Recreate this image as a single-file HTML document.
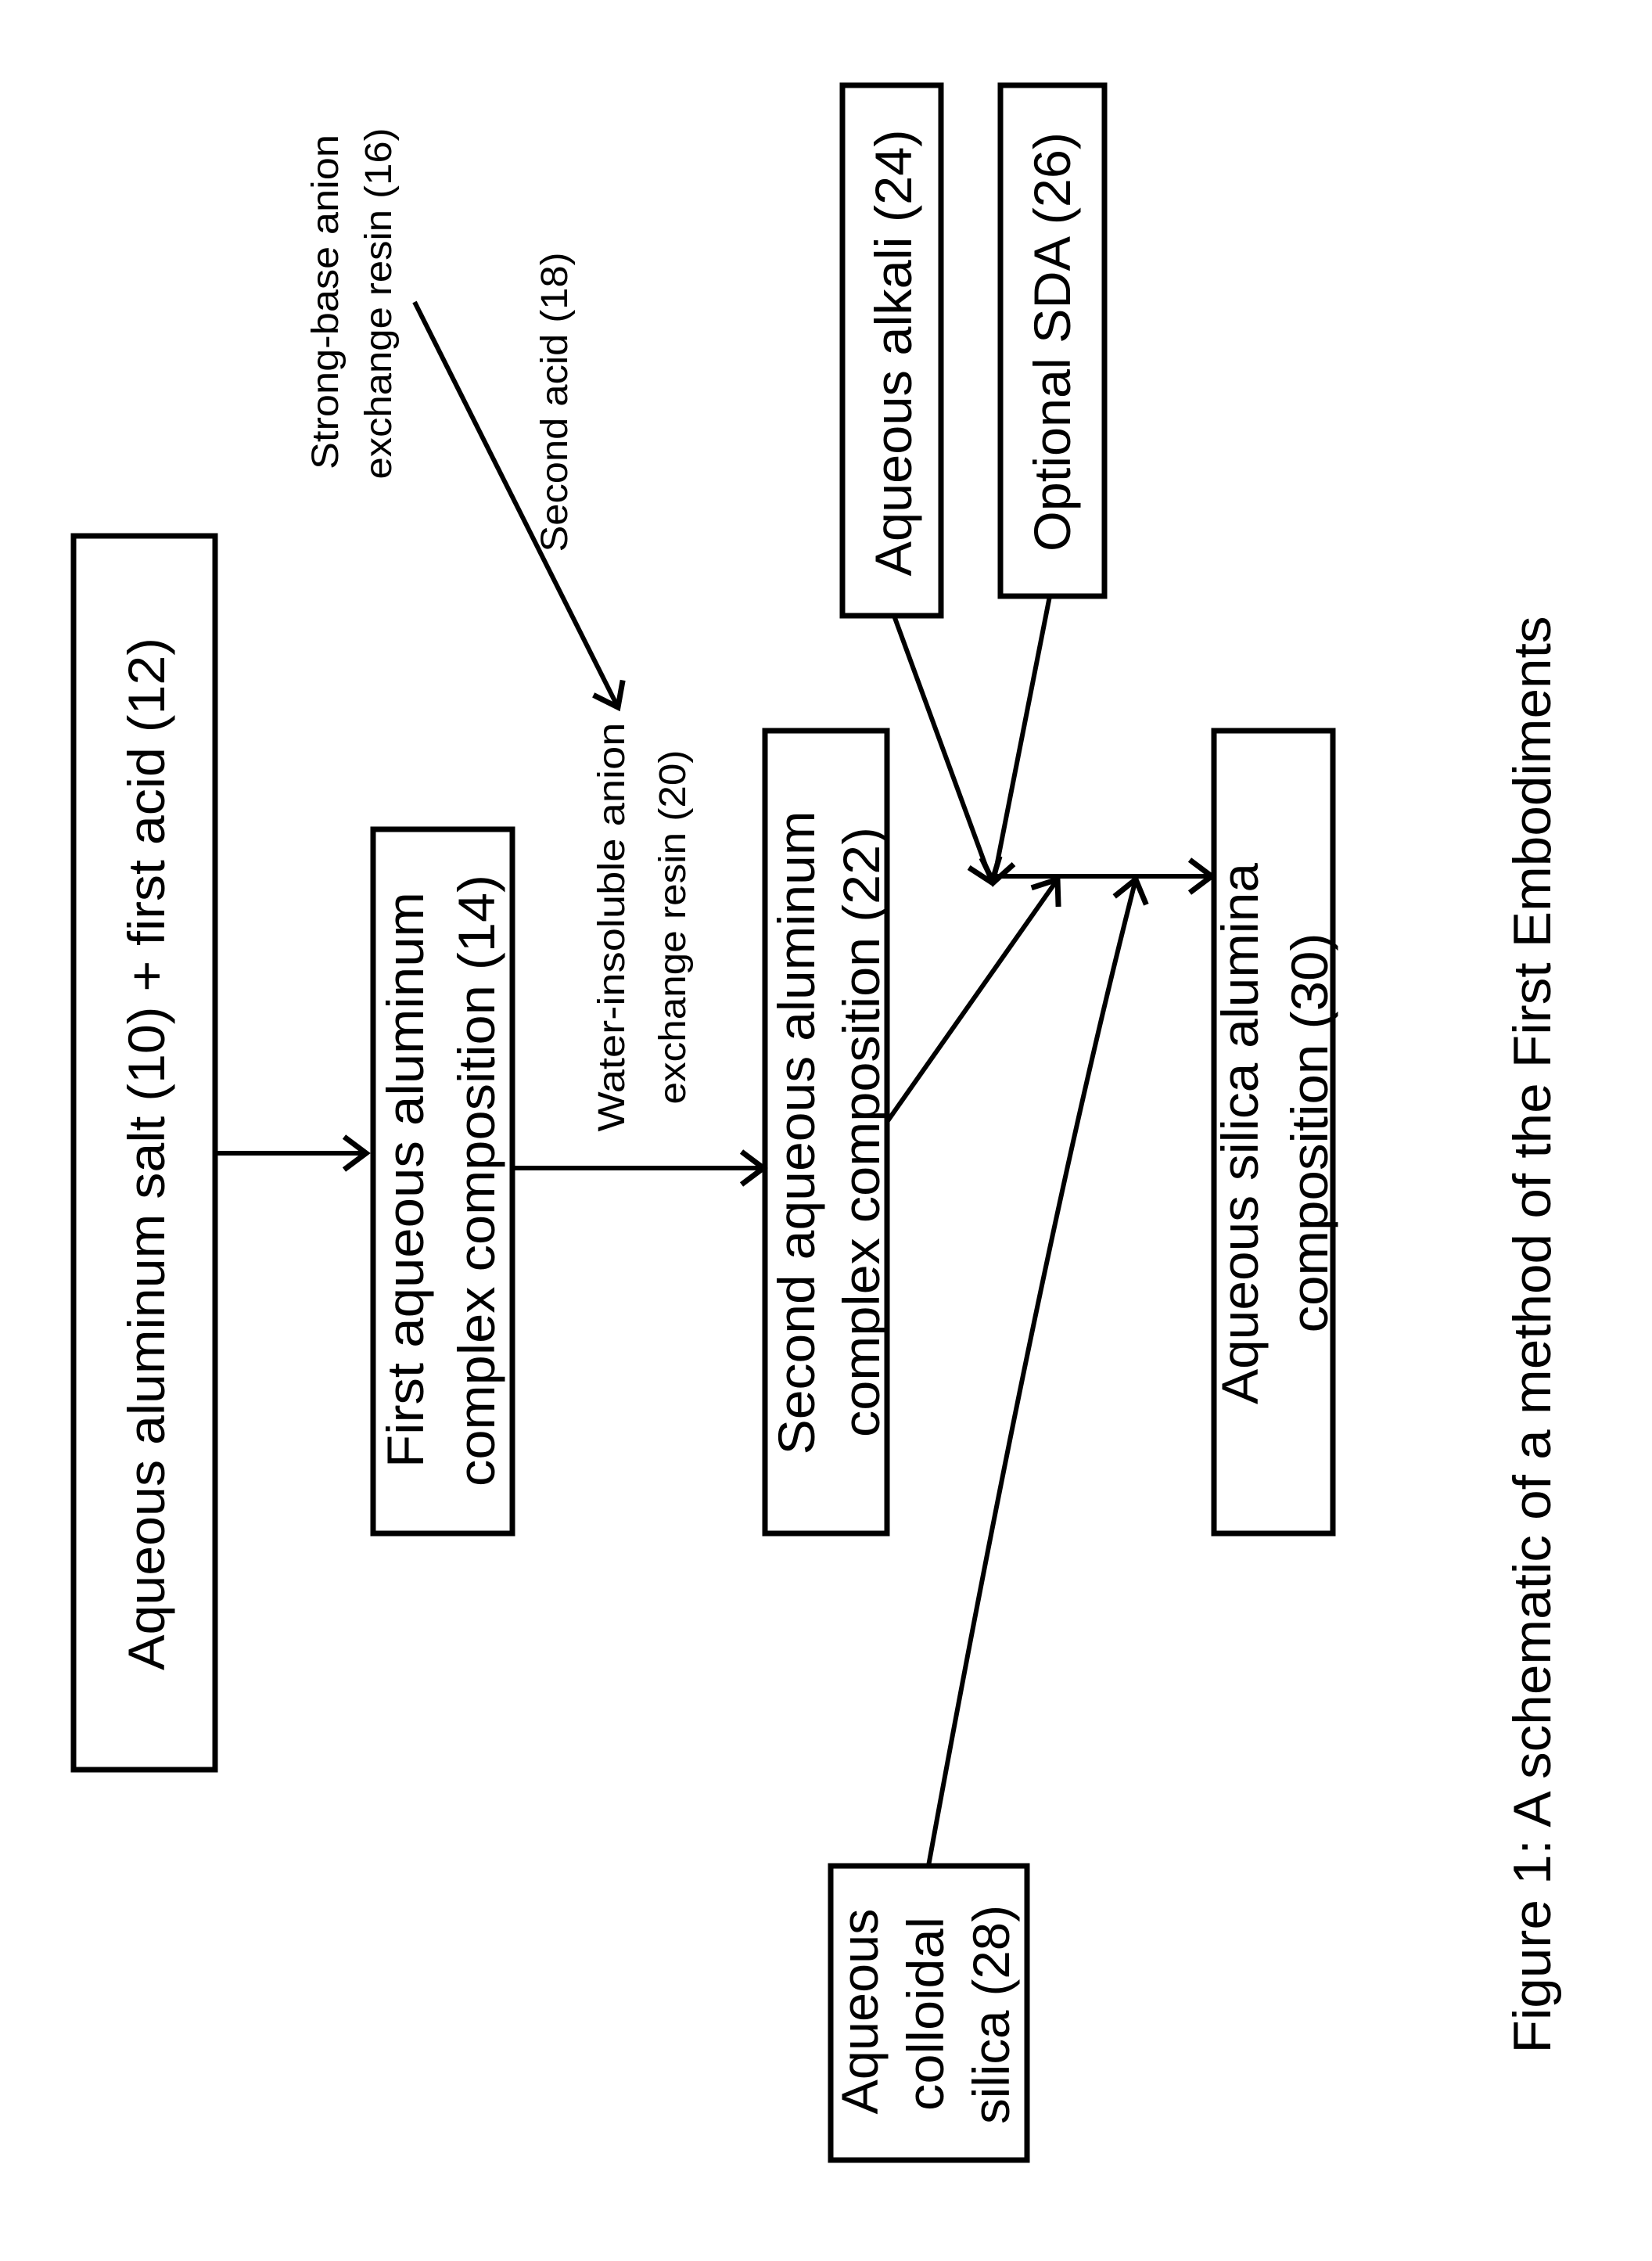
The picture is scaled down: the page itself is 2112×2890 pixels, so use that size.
<!DOCTYPE html>
<html><head><meta charset="utf-8"><style>html,body{margin:0;padding:0;background:#fff}svg{display:block}</style></head>
<body>
<svg width="2112" height="2890" viewBox="0 0 2112 2890" xmlns="http://www.w3.org/2000/svg">
<defs>
<marker id="a" markerUnits="userSpaceOnUse" markerWidth="60" markerHeight="60" refX="34" refY="25" orient="auto">
<polyline points="6,4 34,25 6,46" fill="none" stroke="#000" stroke-width="7" stroke-linejoin="miter"/>
</marker>
</defs>
<g fill="none" stroke="#000" stroke-width="7">
<rect x="94" y="685" width="181" height="1577"/>
<rect x="477" y="1060" width="178" height="900"/>
<rect x="978" y="934" width="156" height="1026"/>
<rect x="1552" y="934" width="152" height="1026"/>
<rect x="1077" y="109" width="126" height="678"/>
<rect x="1279" y="109" width="133" height="653"/>
<rect x="1062" y="2385" width="251" height="376"/>
</g>
<g fill="none" stroke="#000" stroke-width="6">
<line x1="276" y1="1474" x2="468" y2="1474" marker-end="url(#a)"/>
<line x1="655" y1="1493" x2="976" y2="1493" marker-end="url(#a)"/>
<line x1="530" y1="386" x2="790" y2="904" marker-end="url(#a)"/>
<line x1="1143" y1="787" x2="1268" y2="1128" marker-end="url(#a)"/>
<line x1="1342" y1="762" x2="1270" y2="1128" marker-end="url(#a)"/>
<line x1="1268" y1="1120" x2="1549" y2="1120" marker-end="url(#a)"/>
<line x1="1134" y1="1434" x2="1352" y2="1124" marker-end="url(#a)"/>
<path d="M1187,2385 Q1330,1600 1452,1124" marker-end="url(#a)"/>
</g>
<g font-family="Liberation Sans, sans-serif" fill="#000" text-anchor="middle" lengthAdjust="spacingAndGlyphs">
<text transform="translate(210,1475) rotate(-90)" font-size="66" textLength="1320" lengthAdjust="spacingAndGlyphs">Aqueous aluminum salt (10) + first acid (12)</text>
<text transform="translate(541,1508) rotate(-90)" font-size="66" textLength="736" lengthAdjust="spacingAndGlyphs">First aqueous aluminum</text>
<text transform="translate(632,1509) rotate(-90)" font-size="66" textLength="782" lengthAdjust="spacingAndGlyphs">complex composition (14)</text>
<text transform="translate(1041,1448) rotate(-90)" font-size="66" textLength="823" lengthAdjust="spacingAndGlyphs">Second aqueous aluminum</text>
<text transform="translate(1124,1447) rotate(-90)" font-size="66" textLength="780" lengthAdjust="spacingAndGlyphs">complex composition (22)</text>
<text transform="translate(1608,1449) rotate(-90)" font-size="66" textLength="692" lengthAdjust="spacingAndGlyphs">Aqueous silica alumina</text>
<text transform="translate(1697,1448) rotate(-90)" font-size="66" textLength="511" lengthAdjust="spacingAndGlyphs">composition (30)</text>
<text transform="translate(1165,451) rotate(-90)" font-size="66" textLength="571" lengthAdjust="spacingAndGlyphs">Aqueous alkali (24)</text>
<text transform="translate(1368,437) rotate(-90)" font-size="66" textLength="536" lengthAdjust="spacingAndGlyphs">Optional SDA (26)</text>
<text transform="translate(1122,2571) rotate(-90)" font-size="66" textLength="263" lengthAdjust="spacingAndGlyphs">Aqueous</text>
<text transform="translate(1206,2574) rotate(-90)" font-size="66" textLength="248" lengthAdjust="spacingAndGlyphs">colloidal</text>
<text transform="translate(1290,2575) rotate(-90)" font-size="66" textLength="280" lengthAdjust="spacingAndGlyphs">silica (28)</text>
<text transform="translate(1982,1706) rotate(-90)" font-size="68" textLength="1837" lengthAdjust="spacingAndGlyphs">Figure 1:  A schematic of a method of the First Embodiments</text>
<text transform="translate(432,386) rotate(-90)" font-size="48" textLength="428" lengthAdjust="spacingAndGlyphs">Strong-base anion</text>
<text transform="translate(500,388) rotate(-90)" font-size="48" textLength="449" lengthAdjust="spacingAndGlyphs">exchange resin (16)</text>
<text transform="translate(725,514) rotate(-90)" font-size="48" textLength="383" lengthAdjust="spacingAndGlyphs">Second acid (18)</text>
<text transform="translate(798,1185) rotate(-90)" font-size="48" textLength="523" lengthAdjust="spacingAndGlyphs">Water-insoluble anion</text>
<text transform="translate(876,1185) rotate(-90)" font-size="48" textLength="453" lengthAdjust="spacingAndGlyphs">exchange resin (20)</text>
</g>
</svg>
</body></html>
